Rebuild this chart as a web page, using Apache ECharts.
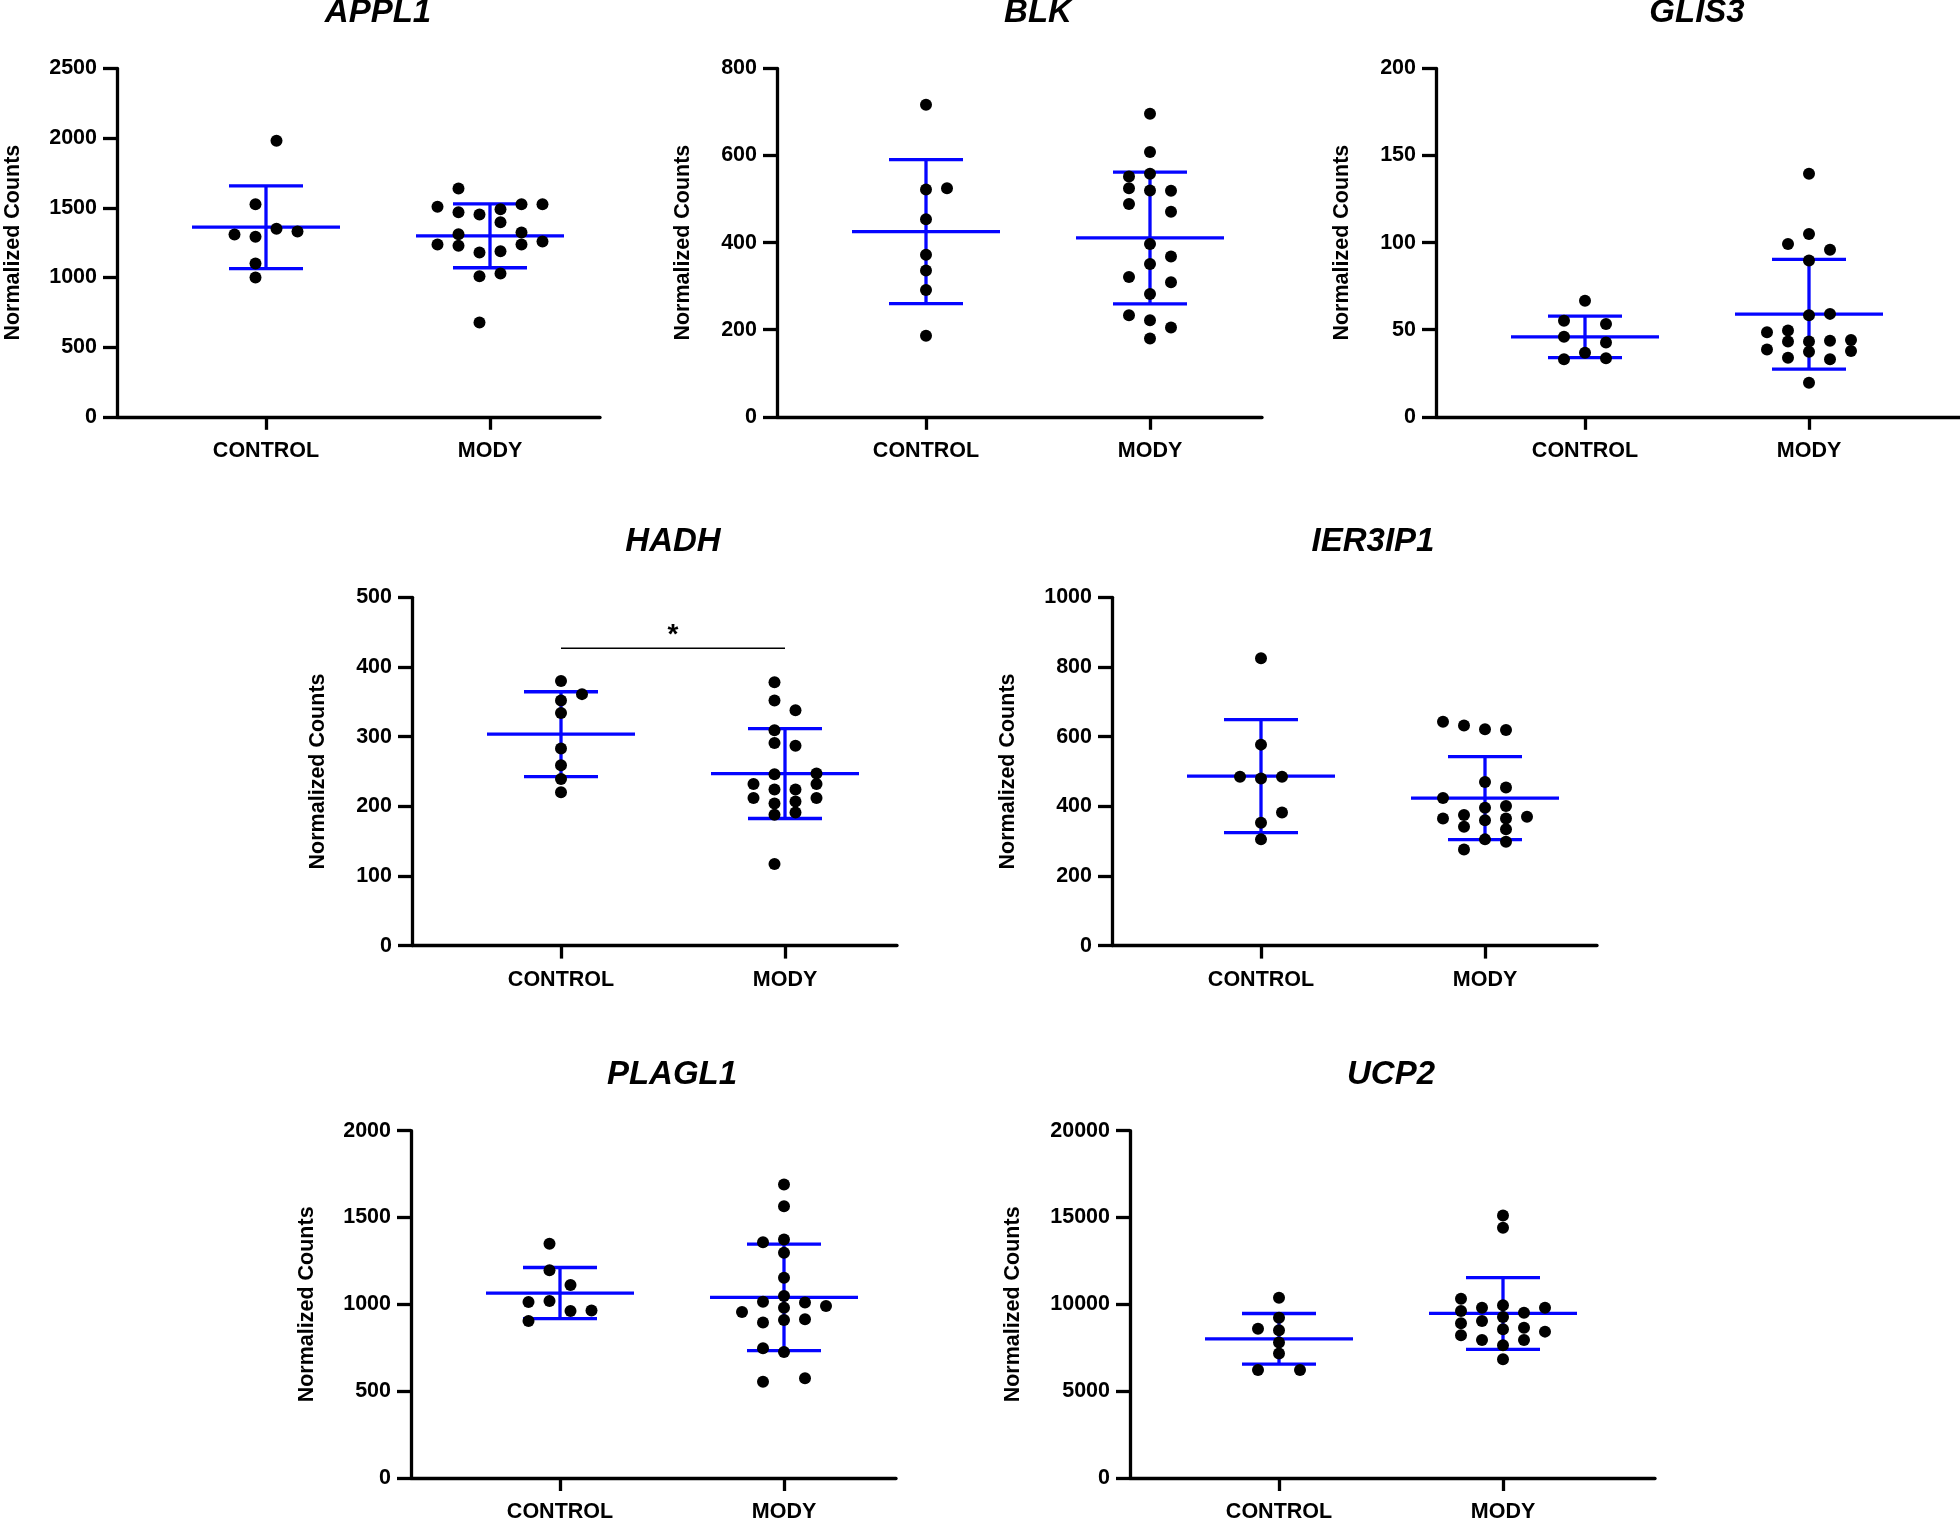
<!DOCTYPE html>
<html><head><meta charset="utf-8">
<script src="https://cdn.jsdelivr.net/npm/echarts@6/dist/echarts.min.js"></script>
<style>html,body{margin:0;padding:0;background:#fff}#c{width:1960px;height:1523px}</style>
</head><body><div id="c"></div>
<script>
// ---------------- DATA ----------------
const groups = ['CONTROL', 'MODY'];
const genes = ['APPL1', 'BLK', 'GLIS3', 'HADH', 'IER3IP1', 'PLAGL1', 'UCP2'];
const yAxisMax = [2500, 800, 200, 500, 1000, 2000, 20000];
const yAxisStep = [500, 200, 50, 100, 200, 500, 5000];
const yAxisTitle = 'Normalized Counts';

const appl1Control = [1981, 1526, 1349, 1330, 1308, 1292, 1100, 1000];
const appl1ControlJitter = [0.5, -0.5, 0.5, 1.5, -1.5, -0.5, -0.5, -0.5];
const appl1Mody = [1639, 1507, 1526, 1526, 1469, 1452, 1490, 1397, 1311, 1323, 1237, 1227, 1179, 1189, 1237, 1258, 1009, 1029, 677];
const appl1ModyJitter = [-1.5, -2.5, 1.5, 2.5, -1.5, -0.5, 0.5, 0.5, -1.5, 1.5, -2.5, -1.5, -0.5, 0.5, 1.5, 2.5, -0.5, 0.5, -0.5];

const blkControl = [717, 522, 525, 454, 372, 336, 291, 186];
const blkControlJitter = [0, 0, 1, 0, 0, 0, 0, 0];
const blkMody = [696, 608, 552, 558, 525, 520, 519, 489, 471, 397, 368, 351, 321, 309, 282, 233, 222, 205, 180];
const blkModyJitter = [0, 0, -1, 0, -1, 0, 1, -1, 1, 0, 1, 0, -1, 1, 0, -1, 0, 1, 0];

const glis3Control = [66.7, 55.2, 53.3, 46.0, 42.6, 36.8, 33.0, 33.6];
const glis3ControlJitter = [0, -1, 1, -1, 1, 0, -1, 1];
const glis3Mody = [139.6, 104.9, 99.2, 95.9, 89.8, 58.3, 59.1, 48.5, 49.5, 43.2, 43.3, 43.7, 44.1, 38.7, 37.4, 37.8, 33.9, 33.0, 19.6];
const glis3ModyJitter = [0, 0, -1, 1, 0, 0, 1, -2, -1, -1, 0, 1, 2, -2, 0, 2, -1, 1, 0];

const hadhControl = [380, 361, 352, 334, 283, 259, 239, 220];
const hadhControlJitter = [0, 1, 0, 0, 0, 0, 0, 0];
const hadhMody = [378, 352, 338, 309, 291, 287, 246, 247, 232, 232, 224, 224, 212, 212, 204, 207, 188, 191, 117];
const hadhModyJitter = [-0.5, -0.5, 0.5, -0.5, -0.5, 0.5, -0.5, 1.5, -1.5, 1.5, -0.5, 0.5, -1.5, 1.5, -0.5, 0.5, -0.5, 0.5, -0.5];

const ier3ip1Control = [825, 577, 485, 480, 485, 382, 353, 305];
const ier3ip1ControlJitter = [0, 0, -1, 0, 1, 1, 0, 0];
const ier3ip1Mody = [643, 632, 621, 619, 470, 454, 424, 396, 401, 375, 370, 365, 360, 365, 341, 334, 305, 298, 276];
const ier3ip1ModyJitter = [-2, -1, 0, 1, 0, 1, -2, 0, 1, -1, 2, -2, 0, 1, -1, 1, 0, 1, -1];

const plagl1Control = [1349, 1197, 1111, 1013, 1019, 962, 965, 904];
const plagl1ControlJitter = [-0.5, -0.5, 0.5, -1.5, -0.5, 0.5, 1.5, -1.5];
const plagl1Mody = [1690, 1565, 1358, 1374, 1297, 1153, 1048, 1015, 1010, 990, 956, 981, 895, 910, 914, 747, 726, 554, 575];
const plagl1ModyJitter = [0, 0, -1, 0, 0, 0, 0, -1, 1, 2, -2, 0, -1, 0, 1, -1, 0, -1, 1];

const ucp2Control = [10383, 9234, 8601, 8506, 7797, 7165, 6226, 6226];
const ucp2ControlJitter = [0, 0, -1, 0, 0, 0, -1, 1];
const ucp2Mody = [15115, 14406, 10326, 9942, 9617, 9808, 9521, 9808, 9272, 9042, 8908, 8563, 8659, 8429, 8218, 7950, 7950, 7644, 6839];
const ucp2ModyJitter = [0, 0, -2, 0, -2, -1, 1, 2, 0, -1, -2, 0, 1, 2, -2, -1, 1, 0, 0];

// significance annotation (HADH, CONTROL vs MODY)
const sigGene = 'HADH';
const sigPair = ['CONTROL', 'MODY'];
const sigLevel = 427;
const sigLabel = '*';

// ---------------- LAYOUT / STYLE ----------------
const panelValues = [
  [appl1Control, appl1ControlJitter, appl1Mody, appl1ModyJitter],
  [blkControl, blkControlJitter, blkMody, blkModyJitter],
  [glis3Control, glis3ControlJitter, glis3Mody, glis3ModyJitter],
  [hadhControl, hadhControlJitter, hadhMody, hadhModyJitter],
  [ier3ip1Control, ier3ip1ControlJitter, ier3ip1Mody, ier3ip1ModyJitter],
  [plagl1Control, plagl1ControlJitter, plagl1Mody, plagl1ModyJitter],
  [ucp2Control, ucp2ControlJitter, ucp2Mody, ucp2ModyJitter]
];
const layout = [
  { left: 117, top: 68.5, right: 600, nameGap: 104 },
  { left: 777, top: 68.5, right: 1262, nameGap: 94 },
  { left: 1436, top: 68.5, right: 1960, nameGap: 94 },
  { left: 412, top: 597.3, right: 897, nameGap: 94 },
  { left: 1112, top: 597.3, right: 1597, nameGap: 104 },
  { left: 411, top: 1130.7, right: 896, nameGap: 104 },
  { left: 1130, top: 1130.7, right: 1655, nameGap: 117 }
];
const PLOT_H = 348.3;
const FIRST_OFFSET = 149;   // px from y-axis to first group
const GROUP_GAP = 224;      // px between groups
const SLOT_PX = 21;
const DOT_R = 6;
const MEAN_HALF = 74;
const CAP_HALF = 37;
const LW = 3.3;
const BLUE = '#0505ff';
const SANS = "'Liberation Sans', Arial, sans-serif";
const LABEL_SIZE = 21.5;

function mean(a) { return a.reduce((s, v) => s + v, 0) / a.length; }
function sd(a) { const m = mean(a); return Math.sqrt(a.reduce((s, v) => s + (v - m) * (v - m), 0) / (a.length - 1)); }

function renderDot(params, api) {
  const p = api.coord([api.value(0), api.value(1)]);
  return { type: 'circle', shape: { cx: p[0] + api.value(2) * SLOT_PX, cy: p[1], r: DOT_R }, style: { fill: '#000' } };
}
function renderBar(params, api) {
  const x = api.value(0), m = api.value(1), s = api.value(2);
  const c = api.coord([x, m]), hi = api.coord([x, m + s]), lo = api.coord([x, m - s]);
  const st = () => ({ stroke: BLUE, lineWidth: LW });
  return { type: 'group', children: [
    { type: 'line', shape: { x1: c[0] - MEAN_HALF, y1: c[1], x2: c[0] + MEAN_HALF, y2: c[1] }, style: st() },
    { type: 'line', shape: { x1: c[0], y1: hi[1], x2: c[0], y2: lo[1] }, style: st() },
    { type: 'line', shape: { x1: c[0] - CAP_HALF, y1: hi[1], x2: c[0] + CAP_HALF, y2: hi[1] }, style: st() },
    { type: 'line', shape: { x1: c[0] - CAP_HALF, y1: lo[1], x2: c[0] + CAP_HALF, y2: lo[1] }, style: st() }
  ]};
}
function renderSig(params, api) {
  const a = api.coord([api.value(0), api.value(2)]);
  const b = api.coord([api.value(1), api.value(2)]);
  return { type: 'group', children: [
    { type: 'line', shape: { x1: a[0], y1: a[1], x2: b[0], y2: b[1] }, style: { stroke: '#000', lineWidth: 1.5 } },
    { type: 'text', x: (a[0] + b[0]) / 2, y: a[1] - 13,
      style: { text: sigLabel, fill: '#000', font: 'bold 28px ' + SANS, align: 'center', verticalAlign: 'middle', textAlign: 'center', textVerticalAlign: 'middle' } }
  ]};
}

const grid = [], xAxis = [], yAxis = [], series = [], title = [];
genes.forEach((gene, i) => {
  const L = layout[i];
  const w = L.right - L.left;
  const xMin = 1 - FIRST_OFFSET / GROUP_GAP;
  const xMax = xMin + w / GROUP_GAP;
  grid.push({ left: L.left, top: L.top, width: w, height: PLOT_H, containLabel: false });
  title.push({ text: gene, left: L.left + FIRST_OFFSET + GROUP_GAP / 2, top: L.top - 55.5,
    textAlign: 'center', textVerticalAlign: 'middle', padding: 0,
    textStyle: { fontSize: 33, fontWeight: 'bold', fontStyle: 'italic', fontFamily: SANS, color: '#000' } });
  xAxis.push({ gridIndex: i, type: 'value', min: xMin, max: xMax,
    splitLine: { show: false },
    axisLine: { show: true, onZero: false, lineStyle: { color: '#000', width: LW } },
    axisTick: { show: true, customValues: [1, 2], length: 13, lineStyle: { color: '#000', width: LW } },
    axisLabel: { show: true, customValues: [1, 2], margin: 23, formatter: v => groups[Math.round(v) - 1] || '',
      fontSize: LABEL_SIZE, fontWeight: 'bold', fontFamily: SANS, color: '#000' } });
  yAxis.push({ gridIndex: i, type: 'value', min: 0, max: yAxisMax[i], interval: yAxisStep[i],
    name: yAxisTitle, nameLocation: 'middle', nameRotate: 90, nameGap: L.nameGap,
    nameTextStyle: { fontSize: LABEL_SIZE, fontWeight: 'bold', fontFamily: SANS, color: '#000', verticalAlign: 'middle', align: 'center' },
    splitLine: { show: false },
    axisLine: { show: true, lineStyle: { color: '#000', width: LW } },
    axisTick: { show: true, length: 14, lineStyle: { color: '#000', width: LW } },
    axisLabel: { margin: 20, fontSize: LABEL_SIZE, fontWeight: 'bold', fontFamily: SANS, color: '#000', formatter: v => String(v) } });
  const [cv, cj, mv, mj] = panelValues[i];
  series.push({ type: 'custom', xAxisIndex: i, yAxisIndex: i, z: 2, renderItem: renderBar,
    encode: { x: 0, y: 1 },
    data: [[1, mean(cv), sd(cv)], [2, mean(mv), sd(mv)]] });
  series.push({ type: 'custom', xAxisIndex: i, yAxisIndex: i, z: 3, renderItem: renderDot,
    encode: { x: 0, y: 1 },
    data: cv.map((v, k) => [1, v, cj[k]]).concat(mv.map((v, k) => [2, v, mj[k]])) });
  if (gene === sigGene) {
    series.push({ type: 'custom', xAxisIndex: i, yAxisIndex: i, z: 4, renderItem: renderSig,
      encode: { x: [0, 1], y: 2 },
      data: [[groups.indexOf(sigPair[0]) + 1, groups.indexOf(sigPair[1]) + 1, sigLevel]] });
  }
});

const chart = echarts.init(document.getElementById('c'), null, { renderer: 'canvas' });
chart.setOption({ animation: false, backgroundColor: '#fff', title, grid, xAxis, yAxis, series });
</script></body></html>
